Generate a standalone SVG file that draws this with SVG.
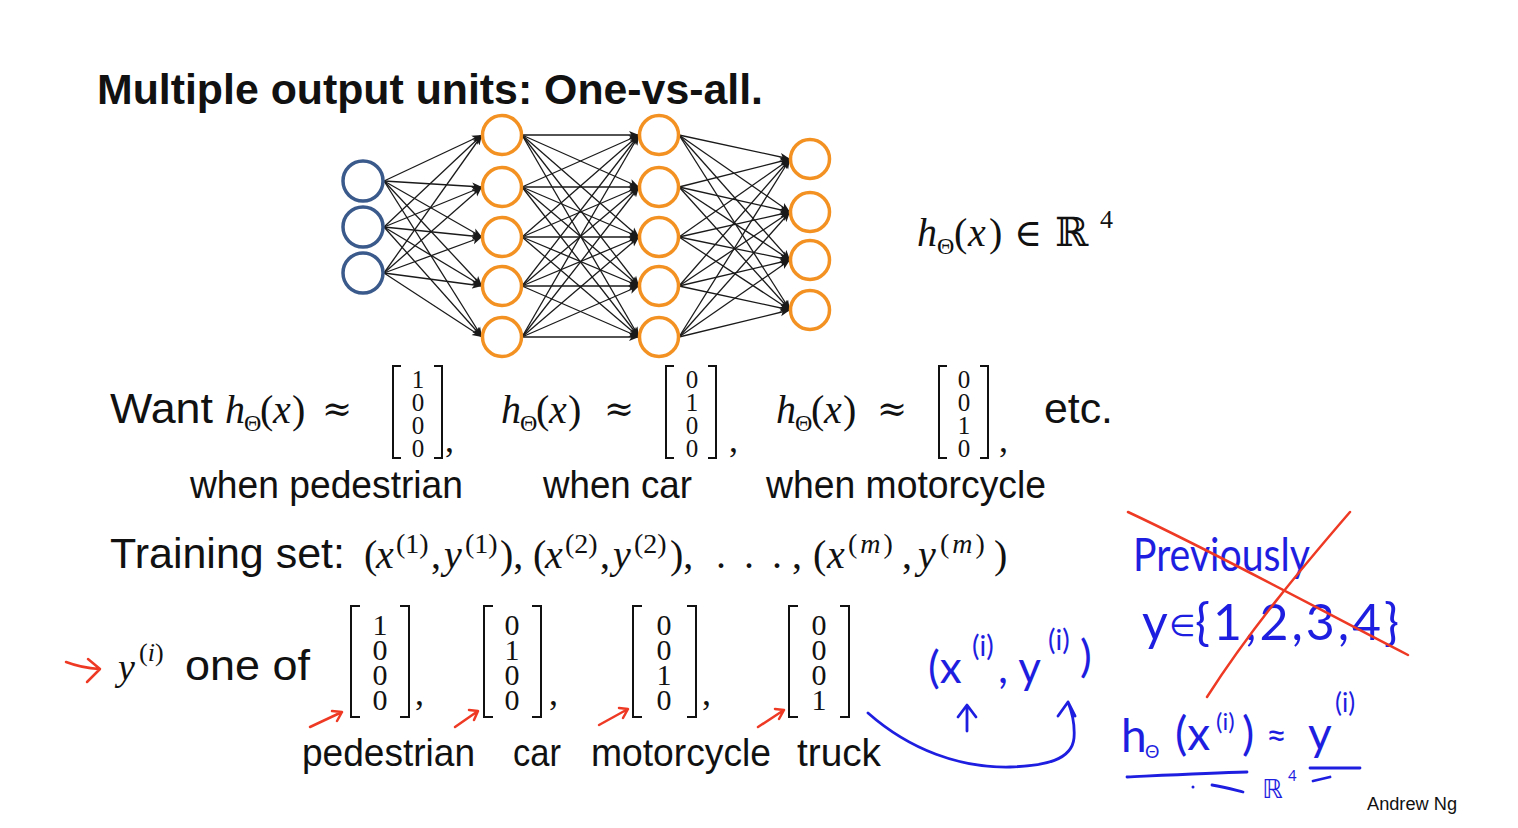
<svg xmlns="http://www.w3.org/2000/svg" width="1518" height="828" viewBox="0 0 1518 828">
<style>
.t{font-family:"Liberation Sans",Arial,sans-serif;fill:#111}
.m{font-family:"Liberation Serif","Times New Roman",serif;fill:#111}
.d{font-family:"DejaVu Serif",serif;fill:#111}
.i{font-style:italic}
.hw{font-family:Lato,"DejaVu Sans",sans-serif;font-weight:400;fill:#1e1ee0}
.e{stroke:#1a1a1a;stroke-width:1.3;fill:none;marker-end:url(#ah)}
.in{fill:#fff;stroke:#3b5a8c;stroke-width:3.5}
.hid{fill:#fff;stroke:#f39222;stroke-width:3.5}
.br{fill:none;stroke:#111;stroke-width:2}
.red{fill:none;stroke:#ee3a24;stroke-width:2.5;stroke-linecap:round;stroke-linejoin:round}
.blue{fill:none;stroke:#1e1ee0;stroke-width:2.8;stroke-linecap:round;stroke-linejoin:round}
</style>
<defs>
<marker id="ah" markerWidth="11" markerHeight="9" refX="10" refY="4.5" orient="auto" markerUnits="userSpaceOnUse"><path d="M0,0.5 L10,4.5 L0,8.5 L2.5,4.5 Z" fill="#1a1a1a"/></marker>
</defs>
<rect width="1518" height="828" fill="#fff"/>

<text class="t" x="97" y="104" font-size="42" font-weight="bold" textLength="666" lengthAdjust="spacingAndGlyphs">Multiple output units: One-vs-all.</text>

<g id="connectors">
<line class="e" x1="384" y1="181" x2="482" y2="135"/><line class="e" x1="384" y1="181" x2="482" y2="187"/><line class="e" x1="384" y1="181" x2="482" y2="237"/><line class="e" x1="384" y1="181" x2="482" y2="286"/><line class="e" x1="384" y1="181" x2="482" y2="337"/>
<line class="e" x1="384" y1="227" x2="482" y2="135"/><line class="e" x1="384" y1="227" x2="482" y2="187"/><line class="e" x1="384" y1="227" x2="482" y2="237"/><line class="e" x1="384" y1="227" x2="482" y2="286"/><line class="e" x1="384" y1="227" x2="482" y2="337"/>
<line class="e" x1="384" y1="273" x2="482" y2="135"/><line class="e" x1="384" y1="273" x2="482" y2="187"/><line class="e" x1="384" y1="273" x2="482" y2="237"/><line class="e" x1="384" y1="273" x2="482" y2="286"/><line class="e" x1="384" y1="273" x2="482" y2="337"/>

<line class="e" x1="522" y1="135" x2="639" y2="135"/><line class="e" x1="522" y1="135" x2="639" y2="187"/><line class="e" x1="522" y1="135" x2="639" y2="237"/><line class="e" x1="522" y1="135" x2="639" y2="286"/><line class="e" x1="522" y1="135" x2="639" y2="337"/>
<line class="e" x1="522" y1="187" x2="639" y2="135"/><line class="e" x1="522" y1="187" x2="639" y2="187"/><line class="e" x1="522" y1="187" x2="639" y2="237"/><line class="e" x1="522" y1="187" x2="639" y2="286"/><line class="e" x1="522" y1="187" x2="639" y2="337"/>
<line class="e" x1="522" y1="237" x2="639" y2="135"/><line class="e" x1="522" y1="237" x2="639" y2="187"/><line class="e" x1="522" y1="237" x2="639" y2="237"/><line class="e" x1="522" y1="237" x2="639" y2="286"/><line class="e" x1="522" y1="237" x2="639" y2="337"/>
<line class="e" x1="522" y1="286" x2="639" y2="135"/><line class="e" x1="522" y1="286" x2="639" y2="187"/><line class="e" x1="522" y1="286" x2="639" y2="237"/><line class="e" x1="522" y1="286" x2="639" y2="286"/><line class="e" x1="522" y1="286" x2="639" y2="337"/>
<line class="e" x1="522" y1="337" x2="639" y2="135"/><line class="e" x1="522" y1="337" x2="639" y2="187"/><line class="e" x1="522" y1="337" x2="639" y2="237"/><line class="e" x1="522" y1="337" x2="639" y2="286"/><line class="e" x1="522" y1="337" x2="639" y2="337"/>

<line class="e" x1="679" y1="135" x2="790" y2="159"/><line class="e" x1="679" y1="135" x2="790" y2="212"/><line class="e" x1="679" y1="135" x2="790" y2="260"/><line class="e" x1="679" y1="135" x2="790" y2="310"/>
<line class="e" x1="679" y1="187" x2="790" y2="159"/><line class="e" x1="679" y1="187" x2="790" y2="212"/><line class="e" x1="679" y1="187" x2="790" y2="260"/><line class="e" x1="679" y1="187" x2="790" y2="310"/>
<line class="e" x1="679" y1="237" x2="790" y2="159"/><line class="e" x1="679" y1="237" x2="790" y2="212"/><line class="e" x1="679" y1="237" x2="790" y2="260"/><line class="e" x1="679" y1="237" x2="790" y2="310"/>
<line class="e" x1="679" y1="286" x2="790" y2="159"/><line class="e" x1="679" y1="286" x2="790" y2="212"/><line class="e" x1="679" y1="286" x2="790" y2="260"/><line class="e" x1="679" y1="286" x2="790" y2="310"/>
<line class="e" x1="679" y1="337" x2="790" y2="159"/><line class="e" x1="679" y1="337" x2="790" y2="212"/><line class="e" x1="679" y1="337" x2="790" y2="260"/><line class="e" x1="679" y1="337" x2="790" y2="310"/>
</g>

<g id="in1"><circle class="in" cx="363" cy="181" r="20"/></g>
<g id="in2"><circle class="in" cx="363" cy="227" r="20"/></g>
<g id="in3"><circle class="in" cx="363" cy="273" r="20"/></g>
<g id="h1a"><circle class="hid" cx="502" cy="135" r="19.5"/></g>
<g id="h1b"><circle class="hid" cx="502" cy="187" r="19.5"/></g>
<g id="h1c"><circle class="hid" cx="502" cy="237" r="19.5"/></g>
<g id="h1d"><circle class="hid" cx="502" cy="286" r="19.5"/></g>
<g id="h1e"><circle class="hid" cx="502" cy="337" r="19.5"/></g>
<g id="h2a"><circle class="hid" cx="659" cy="135" r="19.5"/></g>
<g id="h2b"><circle class="hid" cx="659" cy="187" r="19.5"/></g>
<g id="h2c"><circle class="hid" cx="659" cy="237" r="19.5"/></g>
<g id="h2d"><circle class="hid" cx="659" cy="286" r="19.5"/></g>
<g id="h2e"><circle class="hid" cx="659" cy="337" r="19.5"/></g>
<g id="o1"><circle class="hid" cx="810" cy="159" r="19.5"/></g>
<g id="o2"><circle class="hid" cx="810" cy="212" r="19.5"/></g>
<g id="o3"><circle class="hid" cx="810" cy="260" r="19.5"/></g>
<g id="o4"><circle class="hid" cx="810" cy="310" r="19.5"/></g>

<g id="hyp">
<text class="m" font-size="40" y="246"><tspan class="i" x="917">h</tspan><tspan x="937" y="254" font-size="24">Θ</tspan><tspan x="954" y="246">(</tspan><tspan class="i" x="968">x</tspan><tspan x="989">)</tspan></text>
<text class="d" x="1014" y="246" font-size="38">∈</text>
<text class="d" x="1055" y="246" font-size="40">ℝ</text>
<text class="m" x="1100" y="228" font-size="26">4</text>
</g>

<g id="want">
<text class="t" x="110" y="423" font-size="42" textLength="103" lengthAdjust="spacingAndGlyphs">Want</text>
<text class="m" font-size="40" y="423"><tspan class="i" x="225">h</tspan><tspan x="244" y="431" font-size="24">Θ</tspan><tspan x="260" y="423">(</tspan><tspan class="i" x="273">x</tspan><tspan x="292">)</tspan></text>
<text class="d" x="322" y="421" font-size="36">≈</text>
<path class="br" d="M401 366H393V458H401M434 366H442V458H434"/>
<text class="m" font-size="25" text-anchor="middle"><tspan x="418" y="388">1</tspan><tspan x="418" y="411">0</tspan><tspan x="418" y="434">0</tspan><tspan x="418" y="457">0</tspan></text>
<text class="m" x="445" y="452" font-size="36">,</text>

<text class="m" font-size="40" y="423"><tspan class="i" x="501">h</tspan><tspan x="520" y="431" font-size="24">Θ</tspan><tspan x="536" y="423">(</tspan><tspan class="i" x="549">x</tspan><tspan x="568">)</tspan></text>
<text class="d" x="604" y="421" font-size="36">≈</text>
<path class="br" d="M674 366H666V458H674M708 366H716V458H708"/>
<text class="m" font-size="25" text-anchor="middle"><tspan x="692" y="388">0</tspan><tspan x="692" y="411">1</tspan><tspan x="692" y="434">0</tspan><tspan x="692" y="457">0</tspan></text>
<text class="m" x="729" y="452" font-size="36">,</text>

<text class="m" font-size="40" y="423"><tspan class="i" x="776">h</tspan><tspan x="795" y="431" font-size="24">Θ</tspan><tspan x="811" y="423">(</tspan><tspan class="i" x="824">x</tspan><tspan x="843">)</tspan></text>
<text class="d" x="877" y="421" font-size="36">≈</text>
<path class="br" d="M947 366H939V458H947M980 366H988V458H980"/>
<text class="m" font-size="25" text-anchor="middle"><tspan x="964" y="388">0</tspan><tspan x="964" y="411">0</tspan><tspan x="964" y="434">1</tspan><tspan x="964" y="457">0</tspan></text>
<text class="m" x="999" y="452" font-size="36">,</text>
<text class="t" x="1044" y="423" font-size="42" textLength="69" lengthAdjust="spacingAndGlyphs">etc.</text>

<text class="t" x="190" y="498" font-size="39" textLength="273" lengthAdjust="spacingAndGlyphs">when pedestrian</text>
<text class="t" x="543" y="498" font-size="39" textLength="149" lengthAdjust="spacingAndGlyphs">when car</text>
<text class="t" x="766" y="498" font-size="39" textLength="280" lengthAdjust="spacingAndGlyphs">when motorcycle</text>
</g>

<g id="training">
<text class="t" x="110" y="568" font-size="42" textLength="235" lengthAdjust="spacingAndGlyphs">Training set:</text>
<text class="m" font-size="40" y="568"><tspan x="364">(</tspan><tspan class="i" x="376">x</tspan><tspan x="396" y="553" font-size="28">(1)</tspan><tspan x="431" y="568">,</tspan><tspan class="i" x="444">y</tspan><tspan x="465" y="553" font-size="28">(1)</tspan><tspan x="500" y="568">),</tspan><tspan x="533">(</tspan><tspan class="i" x="545">x</tspan><tspan x="565" y="553" font-size="28">(2)</tspan><tspan x="600" y="568">,</tspan><tspan class="i" x="613">y</tspan><tspan x="634" y="553" font-size="28">(2)</tspan><tspan x="670" y="568">),</tspan><tspan x="716">.</tspan><tspan x="744">.</tspan><tspan x="772">.</tspan><tspan x="792">,</tspan><tspan x="813">(</tspan><tspan class="i" x="827">x</tspan><tspan x="848" y="553" font-size="28" letter-spacing="3">(</tspan><tspan class="i" font-size="28" y="553" letter-spacing="3">m</tspan><tspan font-size="28" y="553">)</tspan><tspan x="902" y="568">,</tspan><tspan class="i" x="918">y</tspan><tspan x="940" y="553" font-size="28" letter-spacing="3">(</tspan><tspan class="i" font-size="28" y="553" letter-spacing="3">m</tspan><tspan font-size="28" y="553">)</tspan><tspan x="994" y="568">)</tspan></text>
</g>

<g id="oneof">
<path class="red" d="M66 662Q82 668 99 669M88 659L100 669L87 682"/>
<text class="m" font-size="38" y="680"><tspan class="i" x="118">y</tspan><tspan x="139" y="661" font-size="26">(</tspan><tspan class="i" font-size="26" y="661">i</tspan><tspan font-size="26" y="661">)</tspan></text>
<text class="t" x="185" y="680" font-size="42" textLength="125" lengthAdjust="spacingAndGlyphs">one of</text>

<path class="br" d="M360 606H351V717H360M400 606H409V717H400"/>
<text class="m" font-size="30" text-anchor="middle"><tspan x="380" y="635">1</tspan><tspan x="380" y="660">0</tspan><tspan x="380" y="685">0</tspan><tspan x="380" y="710">0</tspan></text>
<text class="m" x="415" y="705" font-size="36">,</text>

<path class="br" d="M493 606H484V717H493M532 606H541V717H532"/>
<text class="m" font-size="30" text-anchor="middle"><tspan x="512" y="635">0</tspan><tspan x="512" y="660">1</tspan><tspan x="512" y="685">0</tspan><tspan x="512" y="710">0</tspan></text>
<text class="m" x="549" y="705" font-size="36">,</text>

<path class="br" d="M642 606H633V717H642M687 606H696V717H687"/>
<text class="m" font-size="30" text-anchor="middle"><tspan x="664" y="635">0</tspan><tspan x="664" y="660">0</tspan><tspan x="664" y="685">1</tspan><tspan x="664" y="710">0</tspan></text>
<text class="m" x="702" y="705" font-size="36">,</text>

<path class="br" d="M798 606H789V717H798M840 606H849V717H840"/>
<text class="m" font-size="30" text-anchor="middle"><tspan x="819" y="635">0</tspan><tspan x="819" y="660">0</tspan><tspan x="819" y="685">0</tspan><tspan x="819" y="710">1</tspan></text>

<path class="red" d="M310 727L342 712M332 711L342 712L337 721"/>
<path class="red" d="M455 727L478 711M469 710L478 711L474 720"/>
<path class="red" d="M599 725L628 709M619 708L628 709L623 718"/>
<path class="red" d="M758 727L784 710M775 709L784 710L779 719"/>

<text class="t" x="302" y="766" font-size="39" textLength="173" lengthAdjust="spacingAndGlyphs">pedestrian</text>
<text class="t" x="513" y="766" font-size="39" textLength="48" lengthAdjust="spacingAndGlyphs">car</text>
<text class="t" x="591" y="766" font-size="39" textLength="180" lengthAdjust="spacingAndGlyphs">motorcycle</text>
<text class="t" x="797" y="766" font-size="39" textLength="84" lengthAdjust="spacingAndGlyphs">truck</text>
</g>

<g id="notes">
<path class="blue" d="M868 713C910 750 960 768 1010 767C1045 766 1072 760 1074 738C1075 725 1072 712 1068 702M1058 716L1068 702L1075 716"/>
<path class="blue" d="M967 731L967 706M958 717L967 705L976 717"/>
<text class="hw" font-size="44" y="683"><tspan x="928">(x</tspan><tspan x="972" y="656" font-size="28">(i)</tspan><tspan x="998" y="683">, y</tspan><tspan x="1048" y="650" font-size="28">(i)</tspan><tspan x="1080" y="672">)</tspan></text>

<text class="hw" x="1133" y="571" font-size="46" textLength="177" lengthAdjust="spacingAndGlyphs">Previously</text>
<text class="hw" font-size="50" y="640"><tspan x="1142">y</tspan><tspan x="1169" font-size="30" y="636">∈</tspan><tspan x="1195" y="640" letter-spacing="3">{1,2,3,4}</tspan></text>
<path class="red" d="M1128 512C1220 555 1320 610 1408 655M1350 512C1300 570 1250 630 1207 697"/>

<text class="hw" font-size="46" y="752"><tspan x="1121">h</tspan><tspan x="1145" y="758" font-size="18">Θ</tspan><tspan x="1175" y="750" font-size="46">(x</tspan><tspan x="1216" y="730" font-size="24">(i)</tspan><tspan x="1242" y="750" font-size="46">)</tspan><tspan x="1266" y="748" font-size="36">≈</tspan><tspan x="1308" y="750" font-size="46">y</tspan><tspan x="1335" y="712" font-size="26">(i)</tspan></text>
<path class="blue" d="M1127 777C1170 775 1210 773 1247 772M1212 785C1225 787 1235 790 1243 792M1310 768H1360M1313 781L1330 777"/>
<circle cx="1193" cy="787" r="1.5" fill="#1e1ee0"/>
<text x="1262" y="798" font-size="26" style="font-family:'DejaVu Sans',sans-serif;fill:#1e1ee0">ℝ</text>
<text class="hw" x="1288" y="781" font-size="15">4</text>
</g>

<text class="t" x="1367" y="810" font-size="18" fill="#333" textLength="90" lengthAdjust="spacingAndGlyphs">Andrew Ng</text>
</svg>
